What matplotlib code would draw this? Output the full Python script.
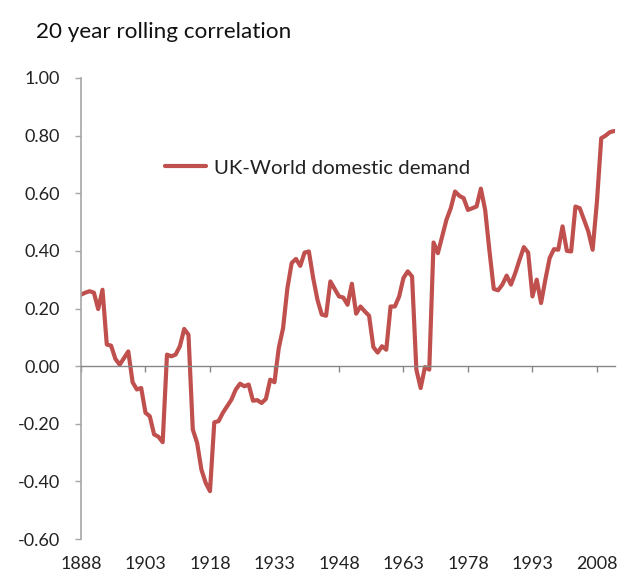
import matplotlib
matplotlib.use("Agg")
import matplotlib.pyplot as plt

years = list(range(1888, 2013))
correlation = [
    0.248, 0.255, 0.260, 0.255, 0.198, 0.265, 0.075, 0.071, 0.025, 0.005,
    0.028, 0.051, -0.056, -0.081, -0.076, -0.162, -0.174, -0.237, -0.245, -0.264,
    0.040, 0.034, 0.040, 0.069, 0.129, 0.109, -0.220, -0.266, -0.359, -0.405,
    -0.434, -0.195, -0.191, -0.162, -0.139, -0.116, -0.081, -0.061, -0.070, -0.064,
    -0.120, -0.118, -0.128, -0.114, -0.047, -0.056, 0.063, 0.132, 0.270, 0.358,
    0.372, 0.348, 0.394, 0.398, 0.306, 0.230, 0.179, 0.175, 0.294, 0.268,
    0.242, 0.238, 0.213, 0.286, 0.182, 0.207, 0.190, 0.175, 0.066, 0.047,
    0.069, 0.057, 0.207, 0.207, 0.242, 0.306, 0.329, 0.311, -0.012, -0.076,
    -0.003, -0.012, 0.429, 0.392, 0.450, 0.508, 0.548, 0.606, 0.591, 0.583,
    0.542, 0.548, 0.554, 0.616, 0.542, 0.400, 0.268, 0.263, 0.283, 0.314,
    0.283, 0.323, 0.369, 0.413, 0.394, 0.242, 0.300, 0.219, 0.300, 0.375,
    0.406, 0.404, 0.485, 0.400, 0.398, 0.554, 0.548, 0.508, 0.467, 0.404,
    0.571, 0.791, 0.800, 0.812, 0.816,
]
x_ticks = [1888, 1903, 1918, 1933, 1948, 1963, 1978, 1993, 2008]
y_ticks = [-0.6, -0.4, -0.2, 0.0, 0.2, 0.4, 0.6, 0.8, 1.0]
series_name = "UK-World domestic demand"
title = "20 year rolling correlation"

plt.rcParams['font.family'] = ['Lato', 'DejaVu Sans']

fig = plt.figure(figsize=(6.24, 5.77), dpi=100)
ax = fig.add_axes([81/624, 1 - 539/577, (615 - 81)/624, (539 - 78)/577])

line_color = '#C0504D'
ax.plot(years, correlation, color=line_color, lw=3.0, label=series_name,
        solid_joinstyle='round', solid_capstyle='round')

ax.set_xlim(1888, 2012.2)
ax.set_ylim(-0.6, 1.0)

for s in ['top', 'right']:
    ax.spines[s].set_visible(False)
ax.spines['left'].set_color('#A6A6A6')
ax.spines['left'].set_linewidth(1.2)
ax.spines['bottom'].set_position(('data', 0))
ax.spines['bottom'].set_color('#868686')
ax.spines['bottom'].set_linewidth(1.0)

ax.set_yticks(y_ticks)
ax.set_yticklabels([f"{v:.2f}" for v in y_ticks])
ax.tick_params(axis='y', direction='out', length=4, width=1, color='#A6A6A6',
               labelsize=13, pad=11, labelcolor='#222222')

ax.set_xticks(x_ticks)
ax.tick_params(axis='x', direction='out', length=4, width=1, color='#868686',
               labelbottom=False)

sec = ax.secondary_xaxis('bottom')
sec.set_xticks(x_ticks)
sec.set_xticklabels([str(y) for y in x_ticks])
sec.spines['bottom'].set_visible(False)
sec.tick_params(length=0, pad=12, labelsize=13, labelcolor='#222222')

ax.legend(loc='center left', bbox_to_anchor=(0.157, 0.805), frameon=False,
          borderpad=0, borderaxespad=0, handlelength=2.0, handletextpad=0.4,
          fontsize=14.7, labelcolor='#222222')

fig.text(36/624, 1 - 32/577, title, fontsize=16.2, color='#111111',
         ha='left', va='center')

fig.savefig('out.png', dpi=100)
